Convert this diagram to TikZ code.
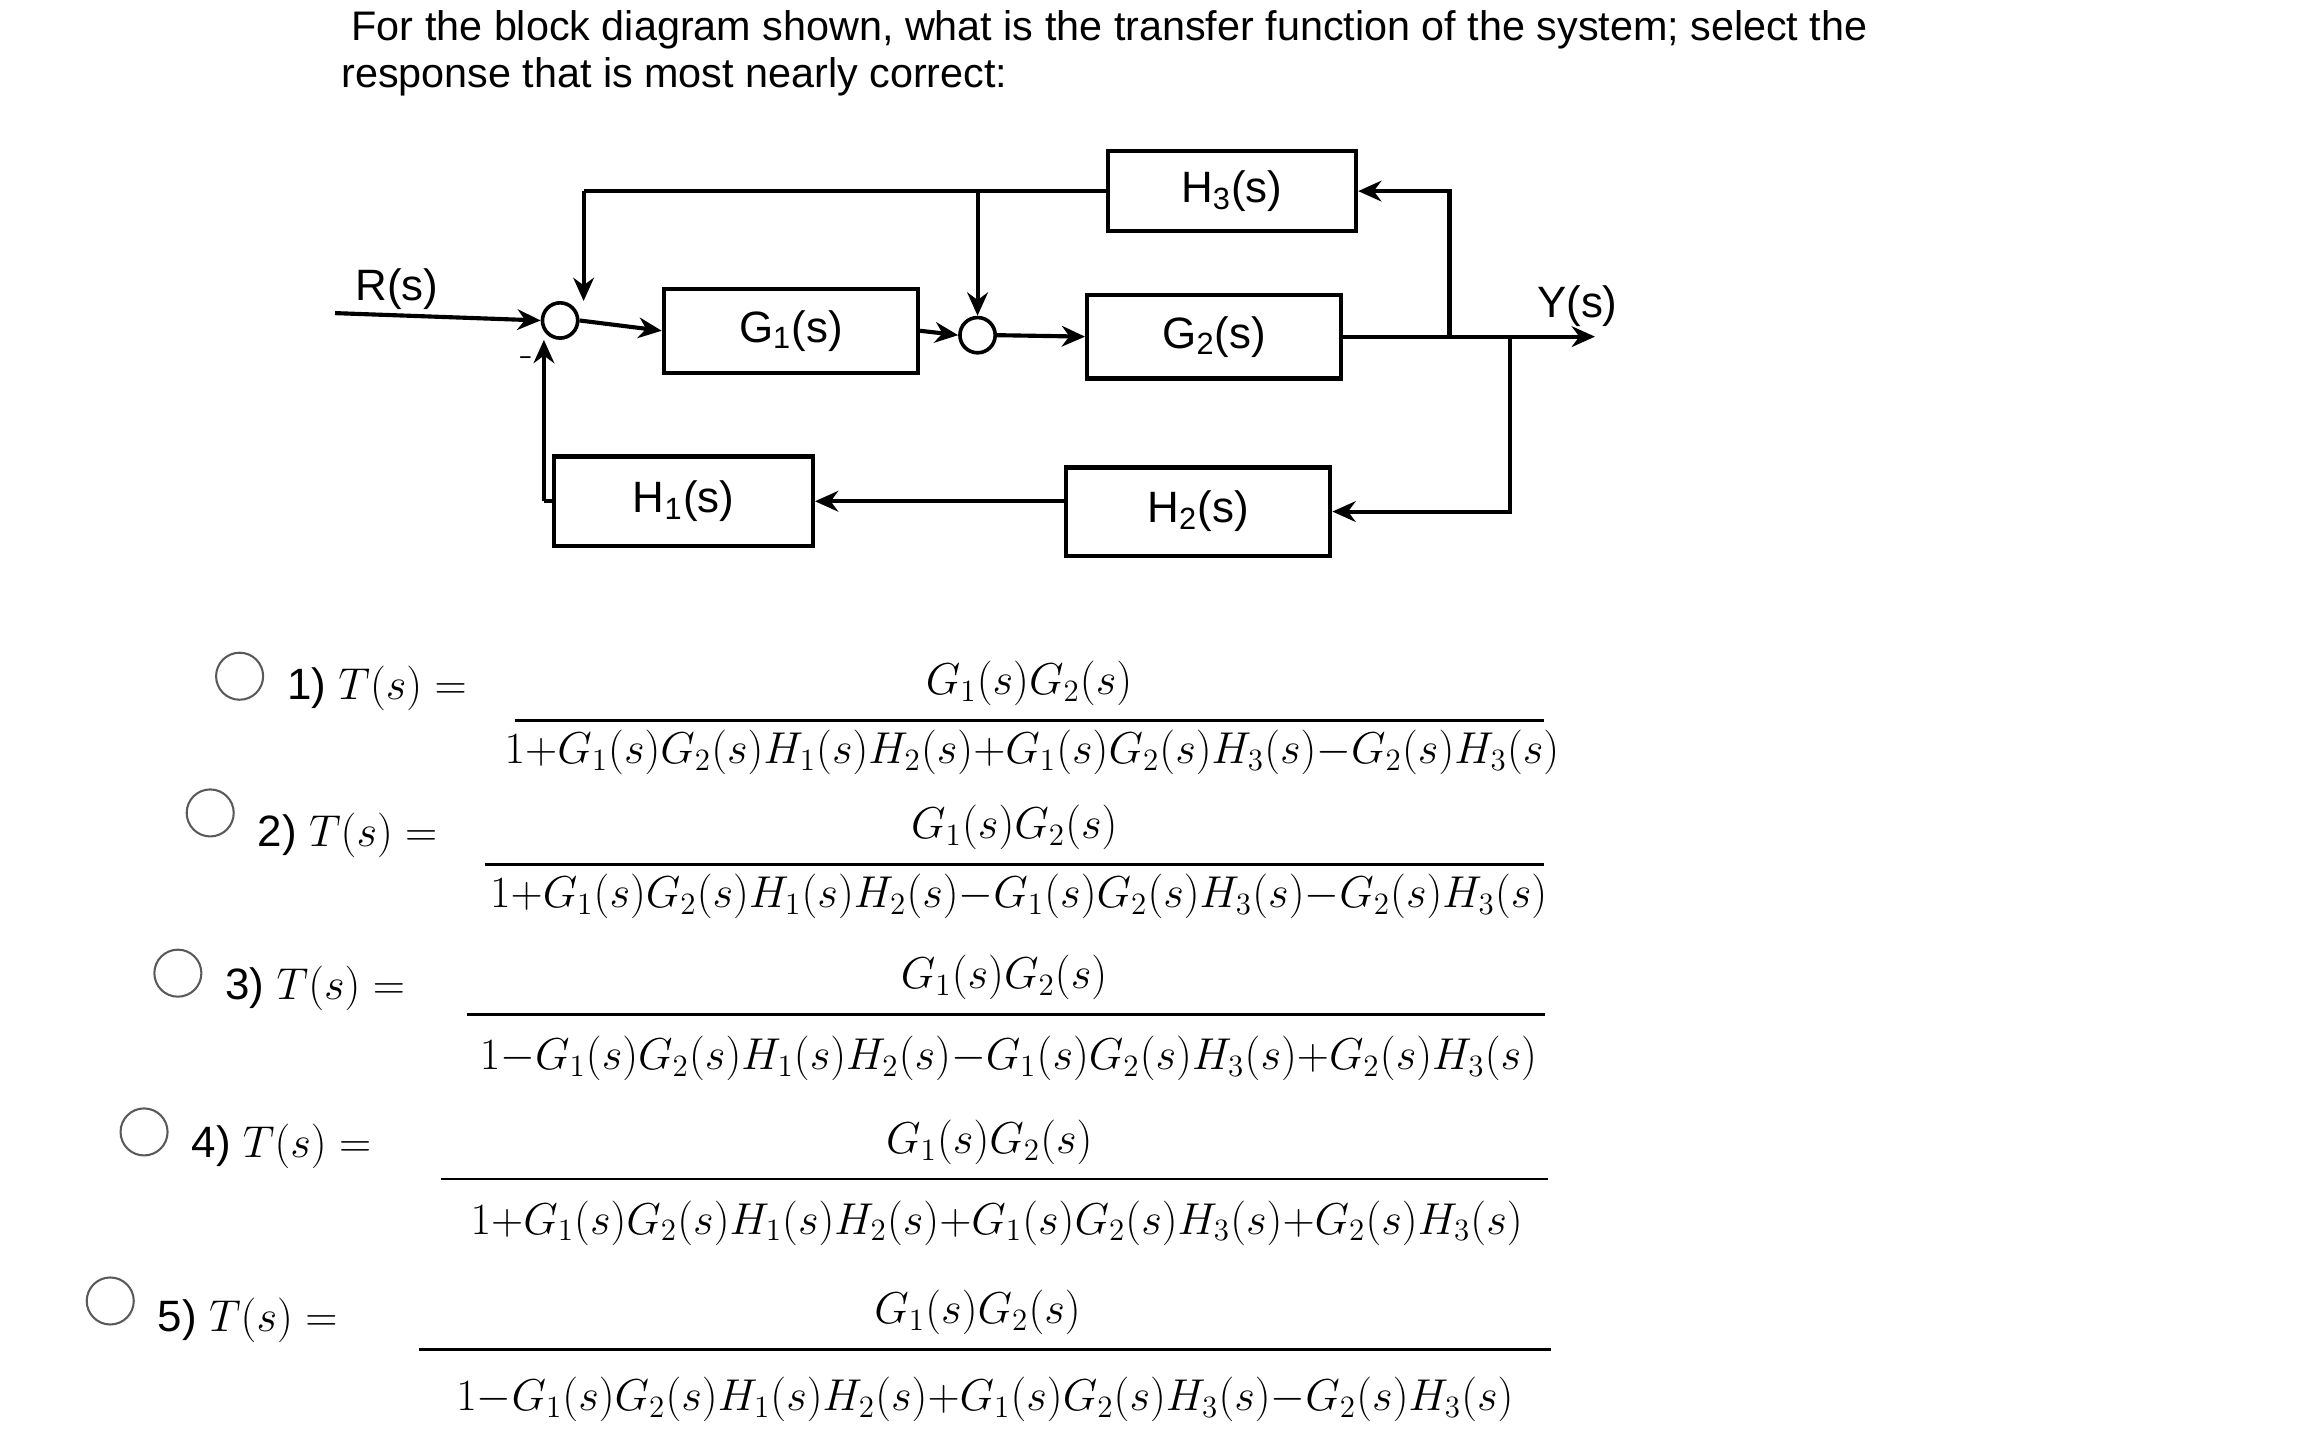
\documentclass[tikz,border=0pt]{standalone}
\usepackage{fontspec}
\setsansfont{Liberation Sans}
\usetikzlibrary{arrows.meta}
\begin{document}
\begin{tikzpicture}[x=0.02cm,y=-0.02cm,
  blk/.style={draw,line width=1.6pt,minimum width=#1},
  sumc/.style={draw,circle,line width=1.4pt,minimum size=0.48cm,inner sep=0},
  ln/.style={line width=1.6pt},
  ar/.style={line width=1.6pt,-{Stealth[length=9pt,width=8pt]}},
  opt/.style={draw,circle,line width=0.8pt,gray!70!black,minimum size=0.64cm,inner sep=0},
  lbl/.style={font=\sffamily\fontsize{17}{20}\selectfont},
  mth/.style={font=\fontsize{18}{22}\selectfont,inner sep=0}]
\useasboundingbox (0,0) rectangle (1568,990);
\node[anchor=west,font=\sffamily\fontsize{16}{19}\selectfont] (q1) at (233,20) {For the block diagram shown, what is the transfer function of the system; select the};
\node[anchor=west,font=\sffamily\fontsize{16}{19}\selectfont] (q2) at (226,52) {response that is most nearly correct:};
% blocks
\node[lbl,blk=3.46cm,minimum height=1.14cm] (G1) at (538,225) {G\textsubscript{1}(s)};
\node[lbl,blk=3.46cm,minimum height=1.14cm] (G2) at (826,229) {G\textsubscript{2}(s)};
\node[lbl,blk=3.38cm,minimum height=1.08cm] (H3) at (838,130) {H\textsubscript{3}(s)};
\node[lbl,blk=3.52cm,minimum height=1.22cm] (H1) at (465,341) {H\textsubscript{1}(s)};
\node[lbl,blk=3.6cm,minimum height=1.2cm] (H2) at (815,348) {H\textsubscript{2}(s)};
\node[sumc] (s1) at (381,218) {};
\node[sumc] (s2) at (665,228) {};
\coordinate (in) at (228,213);
\node[lbl] (R) at (270,197) {R(s)};
\node[lbl] (Y) at (1073,208) {Y(s)};
\coordinate (out) at (1085,229);
\node[font=\fontsize{16}{16}\selectfont] (minus) at (358,246) {-};
% connectors
\draw[ar] (in) -- (s1.west);
\draw[ar] (s1.east) -- (G1.west);
\draw[ar] (G1.east) -- (s2.west);
\draw[ar] (s2.east) -- (G2.west);
\draw[ar] (G2.east) -- (out);
\draw[ar] (986,229) |- (H3.east);
\draw[ln] (H3.west) -- (H3.west -| 397,0) coordinate (c1);
\draw[ar] (c1) -- (c1 |- s1.north);
\draw[ar] (H3.west -| s2.north) -- (s2.north);
\draw[ar] (1027,229) |- (H2.east);
\draw[ar] (H2.west |- H1.east) -- (H1.east);
\draw[ln] (H1.west) -- (370,341);
\draw[ar] (370,341) -- (s1.south -| 370,0);
% options
\foreach \i/\cx/\cy/\lx/\ly/\la/\lb/\ny/\dy/\nx/\dx/\sa/\sb/\sc in {
 1/163/460/195/468/350/1050/465/512/700/702/+/+/-,
 2/143/553/175/568/330/1050/563/610/690/693/+/-/-,
 3/121/662/153/672/318/1051/665/720/683/686/-/-/+,
 4/98/770/130/780/300/1053/777/832/673/678/+/+/+,
 5/75/885/107/898/285/1055/893/952/665/670/-/+/-}{
  \node[opt] (o\i) at (\cx,\cy) {};
  \node[mth,anchor=west] (t\i) at (\lx,\ly) {\sffamily\fontsize{17}{20}\selectfont\i) $T(s)=$};
  \draw[line width=1pt] (\la,\ny+25) -- (\lb,\ny+25);
  \node[mth] (n\i) at (\nx,\ny) {$G_1(s)G_2(s)$};
  \node[mth] (d\i) at (\dx,\dy) {$1{\sa}G_1(s)G_2(s)H_1(s)H_2(s){\sb}G_1(s)G_2(s)H_3(s){\sc}G_2(s)H_3(s)$};
}
\end{tikzpicture}
\end{document}
